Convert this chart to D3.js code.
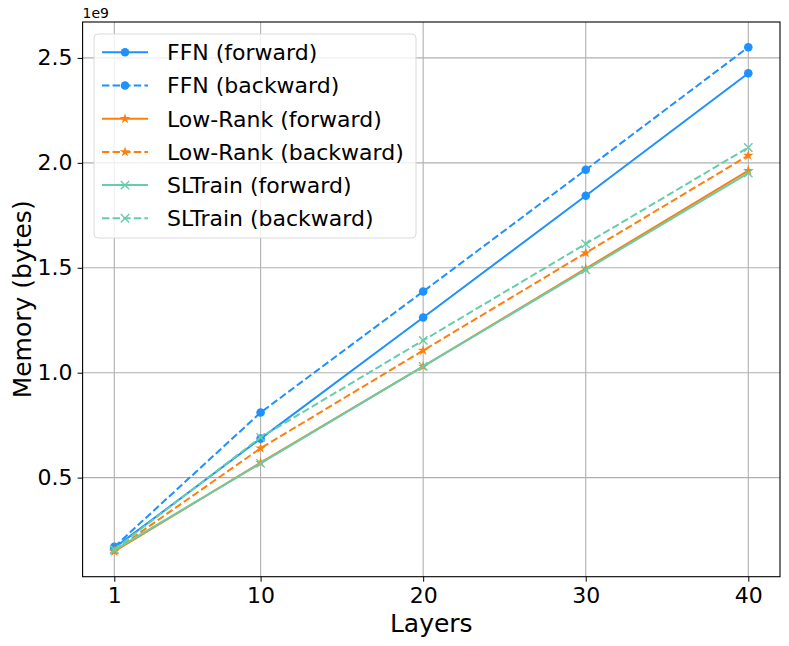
<!DOCTYPE html>
<html><head><meta charset="utf-8">
<script src="https://cdn.jsdelivr.net/npm/d3@7"></script>
<style>body{margin:0;background:#fff}svg{font-family:"DejaVu Sans",sans-serif}</style>
</head><body>
<svg id="c" width="789" height="646"></svg>
<script>
const layers = [1, 10, 20, 30, 40];
const ffnForward = [0.165, 0.686, 1.263, 1.843, 2.427];
const ffnBackward = [0.170, 0.810, 1.387, 1.967, 2.551];
const lrForward = [0.148, 0.571, 1.030, 1.496, 1.963];
const lrBackward = [0.152, 0.640, 1.106, 1.571, 2.035];
const slForward = [0.155, 0.568, 1.030, 1.490, 1.951];
const slBackward = [0.158, 0.692, 1.154, 1.614, 2.073];
const yTicks = [0.5, 1.0, 1.5, 2.0, 2.5];
const xTicks = [1, 10, 20, 30, 40];
const seriesNames = ["FFN (forward)", "FFN (backward)", "Low-Rank (forward)", "Low-Rank (backward)", "SLTrain (forward)", "SLTrain (backward)"];
const colors = ["#1E90FF", "#1E90FF", "#FF7F0E", "#FF7F0E", "#66CDAA", "#66CDAA"];
const markers = ["circle", "circle", "star", "star", "x", "x"];
const dashed = [false, true, false, true, false, true];
const seriesValues = [ffnForward, ffnBackward, lrForward, lrBackward, slForward, slBackward];

const svg = d3.select("#c");
const L = 82.6, R = 780, T = 22, B = 576.7;
const all = seriesValues.flat();
const ymin = d3.min(all), ymax = d3.max(all), yr = ymax - ymin;
const x = d3.scaleLinear().domain([1 - 0.05 * 39, 40 + 0.05 * 39]).range([L, R]);
const y = d3.scaleLinear().domain([ymin - 0.05 * yr, ymax + 0.05 * yr]).range([B, T]);

// grid
const g = svg.append("g");
xTicks.forEach(t => g.append("line").attr("x1", x(t)).attr("x2", x(t)).attr("y1", T).attr("y2", B).attr("stroke", "#b0b0b0").attr("stroke-width", 1.1));
yTicks.forEach(t => g.append("line").attr("x1", L).attr("x2", R).attr("y1", y(t)).attr("y2", y(t)).attr("stroke", "#b0b0b0").attr("stroke-width", 1.1));

// axes
const xa = svg.append("g").attr("transform", `translate(0,${B})`).call(d3.axisBottom(x).tickValues(xTicks).tickSize(5).tickPadding(5).tickFormat(d3.format("d")));
const ya = svg.append("g").attr("transform", `translate(${L},0)`).call(d3.axisLeft(y).tickValues(yTicks).tickSize(5).tickPadding(5).tickFormat(d3.format(".1f")));
[xa, ya].forEach(a => {
  a.select(".domain").remove();
  a.selectAll("text").attr("font-size", 22).attr("font-family", "DejaVu Sans").attr("fill", "#000");
  a.selectAll("line").attr("stroke", "#000").attr("stroke-width", 1);
});
xa.selectAll("text").attr("dy", "0.76em");

svg.append("rect").attr("x", L).attr("y", T).attr("width", R - L).attr("height", B - T).attr("fill", "none").attr("stroke", "#000").attr("stroke-width", 1.1);

function marker(sel, type, color, cx, cy) {
  if (type === "circle") {
    sel.append("circle").attr("cx", cx).attr("cy", cy).attr("r", 4.3).attr("fill", color);
  } else if (type === "star") {
    sel.append("path").attr("d", d3.symbol(d3.symbolStar, 34)()).attr("transform", `translate(${cx},${cy})`).attr("fill", color);
  } else {
    const s = 4.2;
    sel.append("path").attr("d", `M${cx - s},${cy - s}L${cx + s},${cy + s}M${cx - s},${cy + s}L${cx + s},${cy - s}`).attr("stroke", color).attr("stroke-width", 1.4).attr("fill", "none");
  }
}

const line = d3.line().x((d, i) => x(layers[i])).y(d => y(d));
const plot = svg.append("g");
seriesValues.forEach((vals, k) => {
  plot.append("path").attr("d", line(vals)).attr("fill", "none").attr("stroke", colors[k]).attr("stroke-width", 2)
    .attr("stroke-dasharray", dashed[k] ? "7.4,3.2" : null);
  vals.forEach((v, i) => marker(plot, markers[k], colors[k], x(layers[i]), y(v)));
});

// offset text
svg.append("text").attr("x", L).attr("y", 18).attr("font-size", 14).text("1e9");

// labels
svg.append("text").attr("x", (L + R) / 2).attr("y", 632).attr("text-anchor", "middle").attr("font-size", 25).text("Layers");
svg.append("text").attr("transform", `translate(31,${(T + B) / 2}) rotate(-90)`).attr("text-anchor", "middle").attr("font-size", 25).text("Memory (bytes)");

// legend
const lg = svg.append("g");
lg.append("rect").attr("x", 94).attr("y", 34).attr("width", 322).attr("height", 204).attr("rx", 4)
  .attr("fill", "#fff").attr("fill-opacity", 0.8).attr("stroke", "#d9d9d9").attr("stroke-width", 1);
seriesNames.forEach((n, k) => {
  const yy = 52.3 + k * 33.2;
  lg.append("line").attr("x1", 102).attr("x2", 148).attr("y1", yy).attr("y2", yy).attr("stroke", colors[k]).attr("stroke-width", 2)
    .attr("stroke-dasharray", dashed[k] ? "7.4,3.2" : null);
  marker(lg, markers[k], colors[k], 125, yy);
  lg.append("text").attr("x", 167).attr("y", yy).attr("dy", "0.36em").attr("font-size", 22).text(n);
});
</script>
</body></html>
